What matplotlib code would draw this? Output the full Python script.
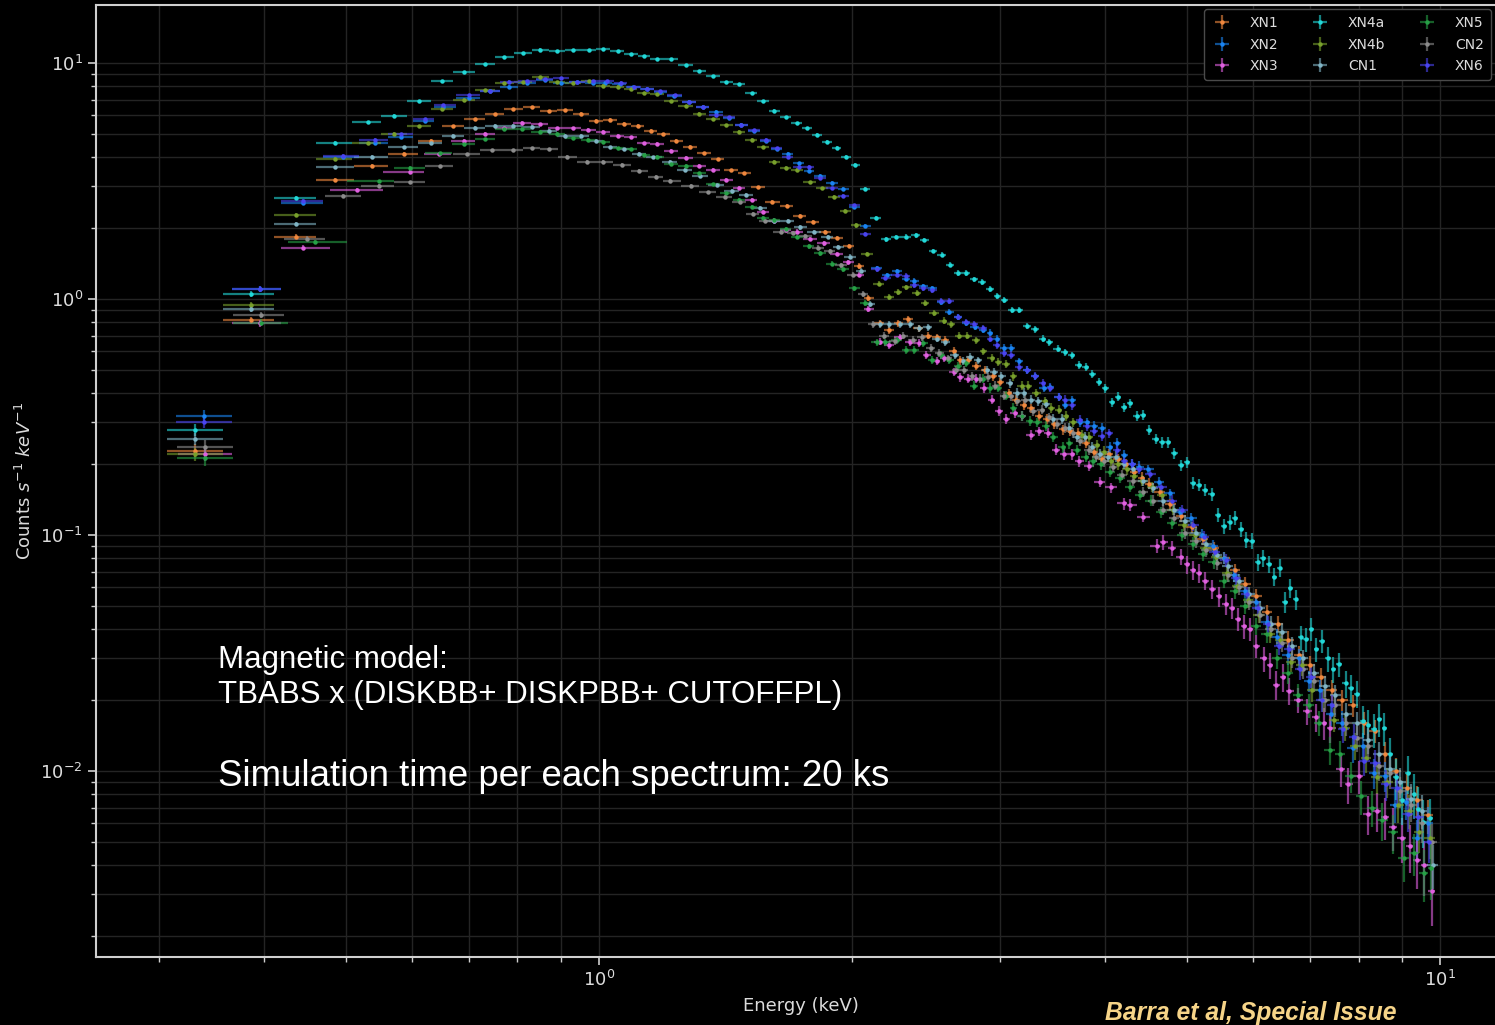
import numpy as np
import matplotlib
matplotlib.use("Agg")
import matplotlib.pyplot as plt
from matplotlib.colors import to_rgba

# exposure of each simulated spectrum (s); sets the Poisson error bars
EXPOSURE = 20e3

labels = ["XN1", "XN2", "XN3", "XN4a", "XN4b", "CN1", "XN5", "CN2", "XN6"]
colors = ["#f0883e", "#1a84f2", "#e060e0", "#22d8d8", "#78a02c",
          "#80b4c4", "#26a046", "#8c8c8c", "#4a44f0"]

# ---- spectra: bin centre energy (keV) and count rate (counts/s/keV) ----
xn1_e = [0.331, 0.386, 0.436, 0.486, 0.537, 0.587, 0.631, 0.671, 0.712, 0.752,
         0.791, 0.832, 0.871, 0.911, 0.952, 0.992, 1.031, 1.072, 1.112, 1.152,
         1.192, 1.236, 1.284, 1.334, 1.384, 1.435, 1.488, 1.547, 1.608, 1.671,
         1.733, 1.795, 1.858, 1.920, 1.981, 2.040, 2.090, 2.16, 2.21, 2.27,
         2.33, 2.40, 2.46, 2.52, 2.58, 2.64, 2.69, 2.75, 2.81, 2.88,
         2.94, 3.00, 3.07, 3.13, 3.20, 3.26, 3.34, 3.41, 3.48, 3.56,
         3.63, 3.71, 3.79, 3.88, 3.96, 4.04, 4.14, 4.23, 4.33, 4.42,
         4.51, 4.64, 4.78, 4.92, 5.07, 5.22, 5.38, 5.54, 5.70, 5.87,
         6.05, 6.23, 6.41, 6.60, 6.80, 7.00, 7.21, 7.43, 7.65, 7.88,
         8.11, 8.36, 8.61, 8.86, 9.13, 9.40, 9.68]
xn1_r = [0.228, 0.815, 1.84, 3.20, 3.66, 4.12, 4.69, 5.39, 5.77, 6.06,
         6.38, 6.49, 6.26, 6.30, 6.10, 5.70, 5.74, 5.53, 5.41, 5.15,
         4.99, 4.69, 4.42, 4.14, 3.91, 3.51, 3.41, 2.97, 2.58, 2.48,
         2.25, 2.11, 1.93, 1.81, 1.68, 1.38, 1.01, 0.79, 0.74, 0.79,
         0.82, 0.75, 0.70, 0.69, 0.67, 0.60, 0.55, 0.55, 0.52, 0.50,
         0.47, 0.445, 0.40, 0.375, 0.355, 0.345, 0.32, 0.31, 0.295, 0.28,
         0.275, 0.27, 0.245, 0.225, 0.21, 0.22, 0.21, 0.20, 0.185, 0.175,
         0.165, 0.152, 0.135, 0.120, 0.108, 0.096, 0.088, 0.080, 0.071, 0.062,
         0.055, 0.047, 0.042, 0.036, 0.031, 0.028, 0.025, 0.022, 0.020, 0.019,
         0.0160, 0.0148, 0.0118, 0.0100, 0.0085, 0.0075, 0.0065]

xn2_e = [0.339, 0.395, 0.445, 0.496, 0.542, 0.582, 0.621, 0.653, 0.701, 0.742,
         0.782, 0.822, 0.863, 0.901, 0.941, 0.983, 1.016, 1.058, 1.097, 1.142,
         1.182, 1.229, 1.280, 1.328, 1.378, 1.429, 1.477, 1.529, 1.578, 1.626,
         1.676, 1.728, 1.777, 1.831, 1.892, 1.952, 2.012, 2.072, 2.14, 2.20,
         2.26, 2.32, 2.37, 2.43, 2.49, 2.55, 2.61, 2.67, 2.73, 2.80,
         2.86, 2.92, 2.97, 3.03, 3.09, 3.16, 3.23, 3.30, 3.38, 3.44,
         3.52, 3.58, 3.65, 3.73, 3.80, 3.88, 3.96, 4.05, 4.13, 4.21,
         4.30, 4.39, 4.50, 4.63, 4.77, 4.91, 5.06, 5.21, 5.37, 5.53,
         5.69, 5.86, 6.04, 6.22, 6.40, 6.59, 6.79, 6.99, 7.20, 7.42,
         7.64, 7.87, 8.10, 8.35, 8.60, 8.85, 9.12, 9.39, 9.67]
xn2_r = [0.32, 1.10, 2.56, 4.00, 4.57, 4.84, 5.68, 6.49, 7.09, 7.63,
         7.94, 8.20, 8.47, 8.25, 8.27, 8.20, 8.25, 8.15, 7.89, 7.73,
         7.56, 7.27, 6.86, 6.49, 6.22, 5.85, 5.48, 5.15, 4.67, 4.32,
         4.12, 3.76, 3.49, 3.33, 3.11, 2.93, 2.46, 2.03, 1.35, 1.26,
         1.31, 1.22, 1.19, 1.13, 1.11, 0.97, 0.88, 0.84, 0.79, 0.76,
         0.74, 0.72, 0.68, 0.62, 0.62, 0.545, 0.50, 0.47, 0.42, 0.425,
         0.385, 0.357, 0.373, 0.30, 0.30, 0.29, 0.285, 0.235, 0.245, 0.218,
         0.20, 0.195, 0.190, 0.168, 0.150, 0.125, 0.118, 0.100, 0.090, 0.080,
         0.068, 0.058, 0.052, 0.043, 0.037, 0.031, 0.030, 0.024, 0.022, 0.0175,
         0.016, 0.0125, 0.0128, 0.0098, 0.0095, 0.0072, 0.0074, 0.0052, 0.0060]

xn3_e = [0.340, 0.395, 0.445, 0.515, 0.596, 0.645, 0.691, 0.732, 0.772, 0.811,
         0.851, 0.891, 0.932, 0.971, 1.012, 1.052, 1.091, 1.131, 1.172, 1.217,
         1.268, 1.316, 1.368, 1.417, 1.467, 1.519, 1.568, 1.616, 1.667, 1.718,
         1.782, 1.85, 1.92, 1.98, 2.04, 2.09, 2.16, 2.21, 2.28, 2.34,
         2.40, 2.45, 2.52, 2.57, 2.64, 2.69, 2.75, 2.81, 2.87, 2.93,
         2.99, 3.05, 3.12, 3.18, 3.26, 3.34, 3.42, 3.49, 3.57, 3.65,
         3.72, 3.82, 3.94, 4.06, 4.21, 4.28, 4.44, 4.61, 4.69, 4.80,
         4.92, 5.00, 5.09, 5.17, 5.26, 5.36, 5.46, 5.56, 5.66, 5.75,
         5.84, 5.94, 6.05, 6.17, 6.28, 6.39, 6.50, 6.62, 6.78, 6.95,
         7.13, 7.27, 7.40, 7.63, 7.78, 8.00, 8.20, 8.42, 8.60, 8.80,
         9.00, 9.20, 9.40, 9.58, 9.77]
xn3_r = [0.22, 0.789, 1.65, 2.90, 3.46, 4.10, 4.67, 5.00, 5.30, 5.59,
         5.50, 5.29, 5.29, 5.20, 5.10, 4.91, 4.84, 4.57, 4.54, 4.25,
         3.97, 3.66, 3.52, 3.19, 2.96, 2.64, 2.34, 2.15, 1.96, 1.93,
         1.80, 1.72, 1.55, 1.43, 1.27, 0.91, 0.66, 0.64, 0.69, 0.655,
         0.65, 0.58, 0.545, 0.56, 0.49, 0.465, 0.46, 0.46, 0.42, 0.375,
         0.335, 0.31, 0.33, 0.32, 0.265, 0.275, 0.27, 0.23, 0.22, 0.22,
         0.205, 0.196, 0.168, 0.159, 0.136, 0.134, 0.119, 0.090, 0.093, 0.088,
         0.081, 0.075, 0.071, 0.069, 0.064, 0.059, 0.055, 0.051, 0.049, 0.044,
         0.041, 0.040, 0.034, 0.030, 0.028, 0.0232, 0.025, 0.0219, 0.020, 0.018,
         0.0169, 0.0160, 0.0152, 0.0102, 0.0088, 0.0095, 0.0066, 0.0068, 0.0064, 0.0058,
         0.0052, 0.0048, 0.0042, 0.0040, 0.0031]

xn4a_e = [0.331, 0.386, 0.436, 0.486, 0.532, 0.571, 0.611, 0.651, 0.691, 0.732,
          0.772, 0.812, 0.852, 0.891, 0.931, 0.972, 1.012, 1.052, 1.092, 1.131,
          1.172, 1.217, 1.268, 1.316, 1.368, 1.417, 1.466, 1.519, 1.568, 1.616,
          1.667, 1.718, 1.767, 1.816, 1.868, 1.917, 1.967, 2.018, 2.073, 2.133,
          2.195, 2.254, 2.316, 2.38, 2.436, 2.495, 2.555, 2.614, 2.674, 2.734,
          2.795, 2.856, 2.918, 2.975, 3.03, 3.095, 3.16, 3.23, 3.30, 3.37,
          3.43, 3.51, 3.58, 3.65, 3.72, 3.79, 3.86, 3.93, 4.00, 4.07,
          4.14, 4.21, 4.28, 4.36, 4.43, 4.51, 4.59, 4.67, 4.75, 4.83,
          4.92, 5.00, 5.09, 5.17, 5.26, 5.35, 5.44, 5.53, 5.62, 5.70,
          5.80, 5.88, 5.98, 6.07, 6.16, 6.26, 6.35, 6.45, 6.54, 6.64,
          6.74, 6.83, 6.93, 7.03, 7.13, 7.24, 7.36, 7.47, 7.59, 7.72,
          7.84, 7.97, 8.10, 8.22, 8.35, 8.47, 8.58, 8.72, 8.87, 9.00,
          9.16, 9.30, 9.42, 9.55, 9.73]
xn4a_r = [0.279, 1.05, 2.68, 4.6, 5.6, 5.98, 6.9, 8.36, 9.14, 9.9,
          10.6, 11.06, 11.4, 11.2, 11.4, 11.35, 11.5, 11.2, 10.9, 10.7,
          10.4, 10.35, 9.78, 9.27, 8.79, 8.28, 8.15, 7.46, 6.88, 6.28,
          5.9, 5.57, 5.29, 4.97, 4.63, 4.37, 4.01, 3.70, 2.92, 2.20,
          1.79, 1.83, 1.84, 1.86, 1.78, 1.60, 1.54, 1.40, 1.29, 1.29,
          1.21, 1.18, 1.10, 1.03, 0.99, 0.90, 0.90, 0.77, 0.743, 0.68,
          0.655, 0.616, 0.594, 0.577, 0.525, 0.517, 0.481, 0.445, 0.418, 0.365,
          0.386, 0.348, 0.361, 0.320, 0.323, 0.279, 0.256, 0.247, 0.247, 0.222,
          0.198, 0.203, 0.166, 0.163, 0.155, 0.149, 0.122, 0.109, 0.113, 0.118,
          0.106, 0.0953, 0.0947, 0.0766, 0.0796, 0.0751, 0.0666, 0.0727, 0.0519, 0.0598,
          0.0534, 0.0368, 0.0361, 0.0400, 0.0328, 0.0356, 0.0300, 0.0270, 0.0284, 0.0235,
          0.0225, 0.0213, 0.0163, 0.0156, 0.0150, 0.0166, 0.0152, 0.0118, 0.0094, 0.0075,
          0.0098, 0.0080, 0.0069, 0.0061, 0.0063]

xn4b_e = [0.331, 0.386, 0.436, 0.486, 0.532, 0.571, 0.611, 0.651, 0.691, 0.732,
          0.772, 0.812, 0.852, 0.891, 0.931, 0.972, 1.012, 1.052, 1.091, 1.131,
          1.172, 1.217, 1.268, 1.316, 1.368, 1.417, 1.467, 1.519, 1.568, 1.616,
          1.667, 1.718, 1.782, 1.841, 1.903, 1.963, 2.021, 2.082, 2.15, 2.21,
          2.27, 2.32, 2.39, 2.44, 2.50, 2.57, 2.62, 2.68, 2.74, 2.81,
          2.86, 2.93, 2.98, 3.05, 3.11, 3.18, 3.24, 3.31, 3.39, 3.45,
          3.52, 3.59, 3.66, 3.75, 3.83, 3.91, 3.98, 4.06, 4.14, 4.24,
          4.33, 4.42, 4.54, 4.67, 4.81, 4.96, 5.11, 5.26, 5.42, 5.58,
          5.74, 5.91, 6.09, 6.27, 6.46, 6.65, 6.85, 7.05, 7.26, 7.48,
          7.70, 7.93, 8.16, 8.41, 8.66, 8.92, 9.18, 9.45, 9.72]
xn4b_r = [0.22, 0.94, 2.27, 3.93, 4.57, 5.0, 5.4, 6.38, 7.0, 7.68,
          8.2, 8.3, 8.7, 8.3, 8.25, 8.4, 8.01, 7.94, 7.76, 7.44,
          7.37, 6.90, 6.57, 6.10, 5.77, 5.46, 5.12, 4.72, 4.39, 3.82,
          3.60, 3.52, 3.12, 2.94, 2.71, 2.37, 2.05, 1.55, 1.16, 1.02,
          1.07, 1.12, 1.06, 0.96, 0.87, 0.81, 0.78, 0.70, 0.70, 0.67,
          0.60, 0.565, 0.54, 0.53, 0.47, 0.43, 0.43, 0.40, 0.37, 0.345,
          0.34, 0.32, 0.30, 0.265, 0.26, 0.24, 0.225, 0.205, 0.20, 0.19,
          0.178, 0.17, 0.160, 0.148, 0.128, 0.110, 0.100, 0.088, 0.081, 0.069,
          0.061, 0.053, 0.046, 0.038, 0.036, 0.029, 0.028, 0.022, 0.020, 0.0165,
          0.0152, 0.0128, 0.0113, 0.0094, 0.0090, 0.0072, 0.0068, 0.0055, 0.0052]

cn1_e = [0.331, 0.386, 0.436, 0.486, 0.537, 0.587, 0.631, 0.671, 0.712, 0.752,
         0.791, 0.832, 0.871, 0.911, 0.952, 0.992, 1.031, 1.072, 1.117, 1.160,
         1.215, 1.265, 1.318, 1.380, 1.440, 1.494, 1.554, 1.616, 1.680, 1.735,
         1.80, 1.870, 1.925, 1.990, 2.050, 2.100, 2.16, 2.21, 2.28, 2.34,
         2.40, 2.46, 2.52, 2.58, 2.65, 2.71, 2.76, 2.82, 2.89, 2.95,
         3.01, 3.08, 3.14, 3.20, 3.26, 3.33, 3.40, 3.47, 3.55, 3.62,
         3.70, 3.78, 3.86, 3.94, 4.03, 4.12, 4.21, 4.31, 4.43, 4.56,
         4.69, 4.83, 4.97, 5.12, 5.27, 5.43, 5.59, 5.76, 5.93, 6.11,
         6.29, 6.48, 6.67, 6.87, 7.08, 7.29, 7.51, 7.74, 7.97, 8.21,
         8.46, 8.71, 8.97, 9.24, 9.52, 9.80]
cn1_r = [0.256, 0.907, 2.08, 3.61, 4.00, 4.40, 4.57, 4.91, 5.32, 5.41,
         5.41, 5.37, 5.15, 4.91, 4.91, 4.69, 4.39, 4.31, 4.12, 3.98,
         3.82, 3.53, 3.33, 3.05, 2.88, 2.76, 2.43, 2.14, 2.15, 2.01,
         1.92, 1.83, 1.66, 1.51, 1.32, 0.95, 0.78, 0.78, 0.78, 0.78,
         0.75, 0.76, 0.68, 0.655, 0.58, 0.545, 0.57, 0.55, 0.50, 0.49,
         0.47, 0.44, 0.40, 0.40, 0.375, 0.37, 0.36, 0.31, 0.31, 0.285,
         0.26, 0.26, 0.235, 0.22, 0.215, 0.215, 0.20, 0.190, 0.170, 0.158,
         0.140, 0.128, 0.115, 0.102, 0.092, 0.082, 0.074, 0.064, 0.056, 0.049,
         0.042, 0.039, 0.034, 0.030, 0.026, 0.023, 0.021, 0.0175, 0.0160, 0.0135,
         0.0118, 0.0102, 0.0090, 0.0076, 0.0068, 0.0040]

xn5_e = [0.340, 0.396, 0.460, 0.547, 0.596, 0.647, 0.691, 0.732, 0.771, 0.811,
         0.852, 0.891, 0.932, 0.971, 1.012, 1.052, 1.091, 1.131, 1.172, 1.217,
         1.268, 1.316, 1.368, 1.417, 1.467, 1.519, 1.568, 1.616, 1.667, 1.718,
         1.776, 1.831, 1.890, 1.952, 2.012, 2.070, 2.14, 2.19, 2.26, 2.32,
         2.37, 2.43, 2.49, 2.55, 2.61, 2.67, 2.73, 2.79, 2.86, 2.92,
         2.98, 3.05, 3.11, 3.18, 3.25, 3.32, 3.40, 3.47, 3.56, 3.62,
         3.70, 3.79, 3.87, 3.95, 4.05, 4.16, 4.28, 4.40, 4.53, 4.66,
         4.80, 4.94, 5.08, 5.23, 5.38, 5.54, 5.70, 5.87, 6.04, 6.22,
         6.40, 6.59, 6.78, 6.98, 7.18, 7.39, 7.61, 7.83, 8.06, 8.30,
         8.54, 8.79, 9.05, 9.31, 9.58, 9.75]
xn5_r = [0.211, 0.794, 1.74, 3.16, 3.60, 4.14, 4.52, 4.75, 5.25, 5.26,
         5.12, 5.00, 4.80, 4.72, 4.64, 4.35, 4.31, 4.09, 4.01, 3.73,
         3.66, 3.41, 3.06, 2.80, 2.63, 2.46, 2.20, 2.16, 1.98, 1.83,
         1.67, 1.56, 1.41, 1.34, 1.11, 0.96, 0.655, 0.655, 0.67, 0.61,
         0.61, 0.65, 0.55, 0.58, 0.55, 0.52, 0.535, 0.43, 0.46, 0.42,
         0.42, 0.39, 0.345, 0.32, 0.305, 0.30, 0.29, 0.26, 0.235, 0.245,
         0.23, 0.215, 0.205, 0.20, 0.185, 0.175, 0.160, 0.148, 0.140, 0.125,
         0.112, 0.100, 0.092, 0.083, 0.077, 0.064, 0.058, 0.050, 0.041, 0.038,
         0.030, 0.026, 0.021, 0.019, 0.016, 0.0123, 0.0118, 0.0095, 0.0078, 0.0070,
         0.0062, 0.0055, 0.0043, 0.0045, 0.0037, 0.0039]

cn2_e = [0.340, 0.396, 0.450, 0.496, 0.547, 0.596, 0.647, 0.696, 0.747, 0.791,
         0.832, 0.872, 0.915, 0.969, 1.012, 1.065, 1.117, 1.170, 1.215, 1.287,
         1.347, 1.411, 1.470, 1.525, 1.574, 1.645, 1.700, 1.760, 1.82, 1.88,
         1.94, 2.005, 2.06, 2.12, 2.18, 2.25, 2.30, 2.36, 2.42, 2.48,
         2.54, 2.60, 2.66, 2.72, 2.78, 2.84, 2.90, 2.96, 3.03, 3.09,
         3.14, 3.21, 3.28, 3.36, 3.43, 3.50, 3.58, 3.66, 3.73, 3.82,
         3.90, 3.99, 4.08, 4.19, 4.31, 4.43, 4.56, 4.69, 4.83, 4.97,
         5.12, 5.27, 5.43, 5.59, 5.76, 5.93, 6.11, 6.29, 6.48, 6.67,
         6.87, 7.08, 7.29, 7.51, 7.74, 7.97, 8.21, 8.46, 8.71, 8.97,
         9.24, 9.52, 9.78]
cn2_r = [0.237, 0.856, 1.80, 2.74, 3.02, 3.12, 3.65, 4.10, 4.27, 4.27,
         4.35, 4.31, 4.01, 3.82, 3.82, 3.71, 3.49, 3.30, 3.17, 3.02,
         2.83, 2.70, 2.57, 2.29, 2.14, 1.92, 1.90, 1.85, 1.65, 1.59,
         1.39, 1.27, 1.05, 0.78, 0.70, 0.665, 0.70, 0.67, 0.69, 0.62,
         0.59, 0.56, 0.50, 0.50, 0.47, 0.46, 0.465, 0.43, 0.39, 0.39,
         0.37, 0.375, 0.335, 0.34, 0.315, 0.295, 0.285, 0.27, 0.25, 0.23,
         0.215, 0.205, 0.195, 0.180, 0.170, 0.152, 0.140, 0.128, 0.118, 0.102,
         0.094, 0.086, 0.076, 0.068, 0.060, 0.052, 0.046, 0.040, 0.035, 0.030,
         0.027, 0.024, 0.020, 0.019, 0.016, 0.0138, 0.0128, 0.0105, 0.0098, 0.0082,
         0.0072, 0.0060, 0.0050]

xn6_e = [0.339, 0.395, 0.445, 0.496, 0.542, 0.582, 0.621, 0.653, 0.701, 0.742,
         0.782, 0.822, 0.863, 0.901, 0.941, 0.983, 1.022, 1.061, 1.100, 1.142,
         1.182, 1.231, 1.280, 1.328, 1.378, 1.429, 1.477, 1.529, 1.578, 1.626,
         1.676, 1.728, 1.777, 1.831, 1.892, 1.952, 2.012, 2.072, 2.14, 2.19,
         2.26, 2.32, 2.37, 2.43, 2.49, 2.55, 2.61, 2.67, 2.73, 2.79,
         2.86, 2.92, 2.97, 3.03, 3.09, 3.16, 3.23, 3.30, 3.37, 3.44,
         3.52, 3.58, 3.65, 3.73, 3.80, 3.88, 3.96, 4.04, 4.13, 4.21,
         4.30, 4.39, 4.52, 4.66, 4.80, 4.94, 5.09, 5.24, 5.40, 5.56,
         5.72, 5.89, 6.07, 6.25, 6.43, 6.62, 6.82, 7.02, 7.23, 7.45,
         7.67, 7.90, 8.13, 8.38, 8.63, 8.88, 9.15, 9.42, 9.70]
xn6_r = [0.30, 1.10, 2.60, 4.05, 4.72, 4.99, 5.77, 6.64, 7.32, 7.61,
         8.33, 8.41, 8.55, 8.60, 8.30, 8.41, 8.39, 8.25, 7.89, 7.78,
         7.61, 7.30, 6.86, 6.53, 6.02, 5.89, 5.48, 5.20, 4.72, 4.35,
         4.01, 3.63, 3.63, 3.27, 2.94, 2.74, 2.49, 1.88, 1.34, 1.23,
         1.27, 1.25, 1.15, 1.11, 1.09, 0.98, 0.98, 0.84, 0.80, 0.78,
         0.75, 0.68, 0.64, 0.59, 0.58, 0.515, 0.50, 0.47, 0.44, 0.42,
         0.385, 0.375, 0.355, 0.307, 0.29, 0.275, 0.262, 0.27, 0.23, 0.205,
         0.20, 0.19, 0.182, 0.160, 0.140, 0.128, 0.110, 0.098, 0.085, 0.078,
         0.066, 0.056, 0.049, 0.042, 0.034, 0.033, 0.027, 0.025, 0.020, 0.019,
         0.015, 0.014, 0.0110, 0.0108, 0.0088, 0.0085, 0.0066, 0.0064, 0.0050]

spectra = [(xn1_e, xn1_r), (xn2_e, xn2_r), (xn3_e, xn3_r), (xn4a_e, xn4a_r),
           (xn4b_e, xn4b_r), (cn1_e, cn1_r), (xn5_e, xn5_r), (cn2_e, cn2_r),
           (xn6_e, xn6_r)]


def bin_errors(energy, rate):
    """Contiguous log bins around the centres, Poisson error on the rate."""
    e = np.asarray(energy, float)
    r = np.asarray(rate, float)
    order = np.argsort(e)
    e, r = e[order], r[order]
    mids = np.sqrt(e[:-1] * e[1:])
    lo = np.concatenate([[e[0] ** 2 / mids[0]], mids])
    hi = np.concatenate([mids, [e[-1] ** 2 / mids[-1]]])
    sig = np.sqrt(r / (EXPOSURE * (hi - lo)))
    return e, r, [e - lo, hi - e], sig


plt.style.use("dark_background")
plt.rcParams["font.family"] = ["DejaVu Sans"]

fig = plt.figure(figsize=(14.95, 10.25), dpi=100, facecolor="black")
ax = fig.add_axes([96 / 1495, 68 / 1025, 1410 / 1495, 952 / 1025])
ax.set_facecolor("black")

handles = []
for (e, r), lab, c in zip(spectra, labels, colors):
    x, y, xerr, yerr = bin_errors(e, r)
    h = ax.errorbar(x, y, xerr=xerr, yerr=yerr, fmt="o", ms=3.2, mew=0,
                    color=c, ecolor=to_rgba(c, 0.6), elinewidth=1.6,
                    capsize=0, label=lab)
    handles.append(h)

ax.set_xscale("log")
ax.set_yscale("log")
ax.set_xlim(0.2523, 11.98)
ax.set_ylim(0.001629, 17.61)

ax.grid(True, which="both", color="#242424", lw=1.0)
ax.set_axisbelow(True)
for side in ["left", "bottom", "top"]:
    ax.spines[side].set_color("#cfcfcf")
    ax.spines[side].set_linewidth(1.5)
ax.spines["right"].set_visible(False)
ax.tick_params(which="major", length=6, width=1.2, colors="#cfcfcf",
               labelsize=13, labelcolor="#dcdcdc")
ax.tick_params(which="minor", length=3.5, width=1.0, colors="#cfcfcf")
ax.tick_params(axis="x", which="both", top=False)

ax.set_xlabel("Energy (keV)", fontsize=13, color="#dcdcdc", labelpad=5)
ax.set_ylabel("Counts $s^{-1}$ $keV^{-1}$", fontsize=13, color="#dcdcdc")

ax.legend(handles, labels, ncol=3, loc="upper left",
          bbox_to_anchor=(1204 / 1495, 1 - 9 / 1025),
          bbox_transform=fig.transFigure, fontsize=10, frameon=True,
          facecolor="black", edgecolor="#4a4a4a", framealpha=1.0,
          labelcolor="#dddddd", columnspacing=2.2, handlelength=1.6,
          handletextpad=1.2, labelspacing=0.55, borderpad=0.5,
          borderaxespad=0)

sans = ["Liberation Sans", "DejaVu Sans"]
fig.text(218 / 1495, 1 - 668 / 1025, "Magnetic model:", fontsize=22.5,
         color="white", family=sans, va="baseline")
fig.text(218 / 1495, 1 - 703 / 1025, "TBABS x (DISKBB+ DISKPBB+ CUTOFFPL)",
         fontsize=22.5, color="white", family=sans, va="baseline")
fig.text(218 / 1495, 1 - 786 / 1025, "Simulation time per each spectrum: 20 ks",
         fontsize=26.4, color="white", family=sans, va="baseline")
fig.text(1105 / 1495, 1 - 1020 / 1025, "Barra et al, Special Issue",
         fontsize=17.8, color="#f6d488", fontweight="bold", fontstyle="italic",
         family=sans, va="baseline")

fig.savefig("out.png", dpi=100, facecolor="black")
